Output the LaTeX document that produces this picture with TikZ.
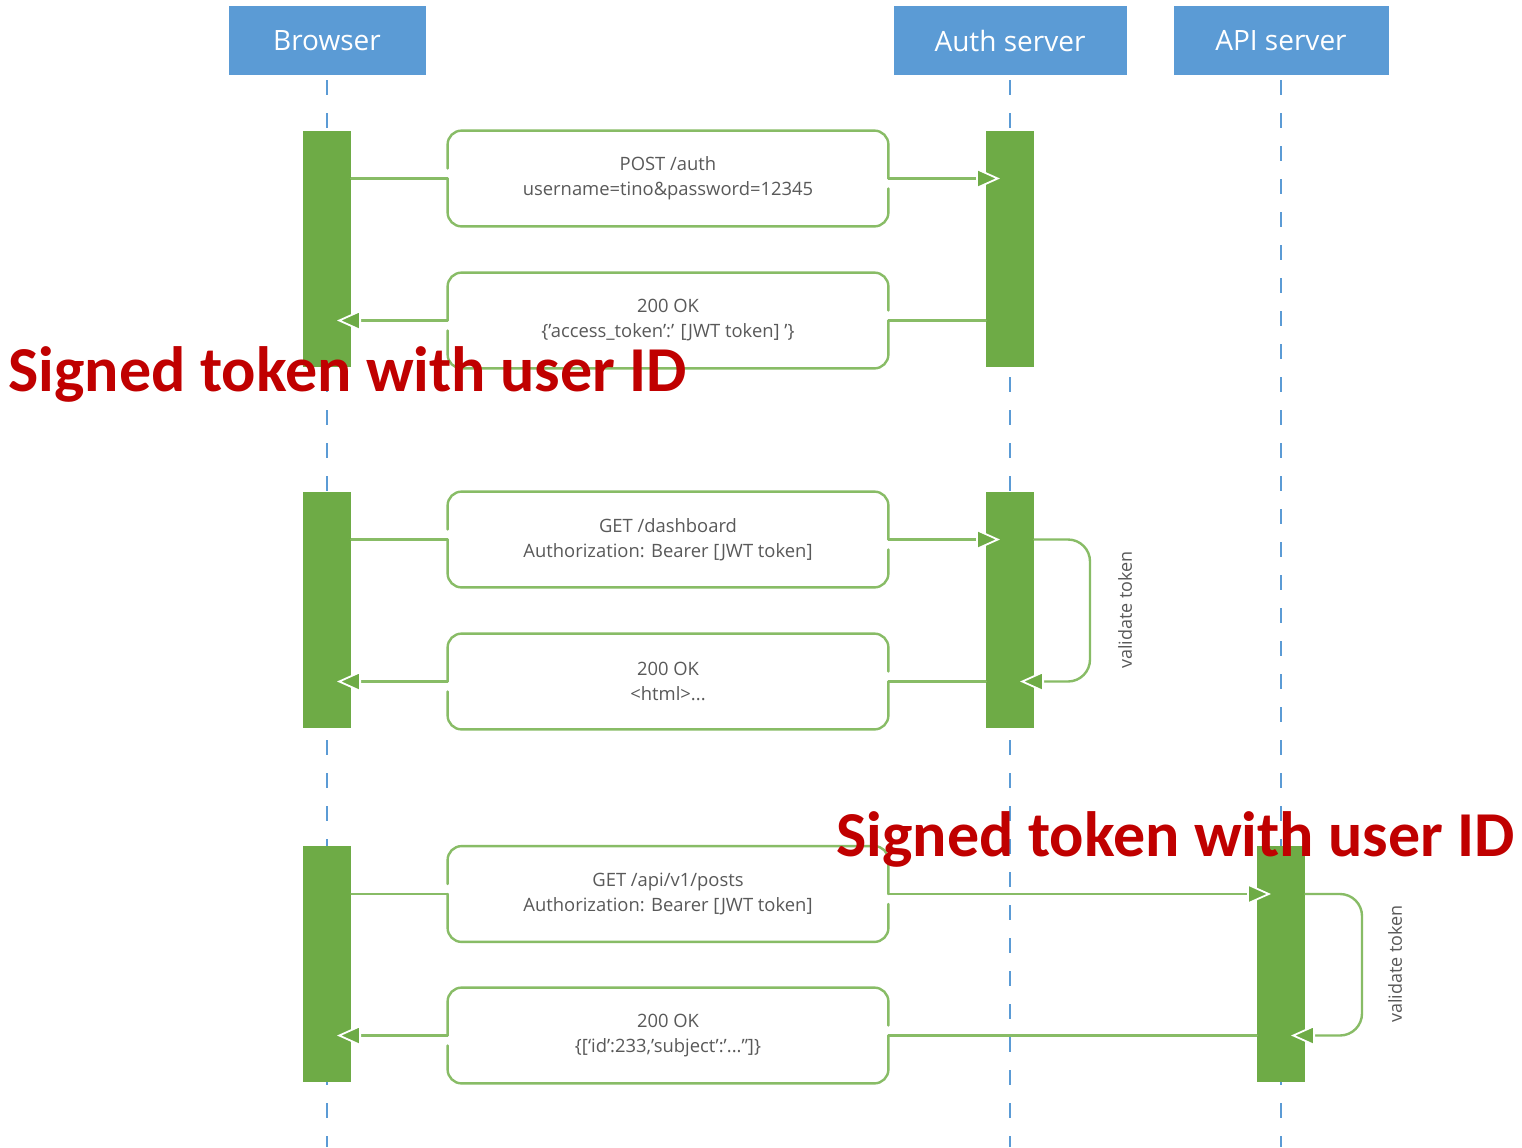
\documentclass[tikz,border=0pt]{standalone}
\usepackage{fontspec}
\setmainfont{Open Sans}
\newfontfamily\calib{Carlito}
\usetikzlibrary{arrows.meta}
\definecolor{hblue}{HTML}{5B9BD5}
\definecolor{bgreen}{HTML}{6EAB46}
\definecolor{lgreen}{HTML}{88BC66}
\definecolor{tgray}{HTML}{595959}
\definecolor{sred}{HTML}{C00000}
\newcommand\msgLR[3]{%
 \draw[conn] (#1.east |- #2.west) -- (#2.west);
 \draw[conn] (#2.west) -- (#2.south west) -- (#2.south east) -- ([yshift=-5pt]#2.east);
 \draw[conn] ([yshift=5pt]#2.west) -- (#2.north west) -- (#2.north east) -- (#2.east);
 \draw[conn,tipped] (#2.east) -- (#3.center |- #2.east);
}
\newcommand\msgRL[3]{%
 \draw[conn] (#1.west |- #2.east) -- (#2.east);
 \draw[conn] (#2.east) -- (#2.south east) -- (#2.south west) -- ([yshift=-5pt]#2.west);
 \draw[conn] ([yshift=5pt]#2.east) -- (#2.north east) -- (#2.north west) -- (#2.west);
 \draw[conn,tipped] (#2.west) -- (#3.center |- #2.west);
}
\begin{document}
\begin{tikzpicture}[x=0.5pt,y=-0.5pt,
 head/.style={fill=hblue, text=white, minimum height=34.5pt, inner sep=0pt, font=\fontsize{14}{16}\selectfont},
 bar/.style={fill=bgreen, minimum width=24pt, minimum height=118pt, inner sep=0pt},
 life/.style={draw=hblue, line width=0.9pt, dash pattern=on 7.5pt off 9pt, dash phase=-2.5pt},
 msgbox/.style={minimum width=220pt, minimum height=47.5pt, inner sep=0pt, align=center, text=tgray, font=\fontsize{9.2}{12.5}\selectfont},
 conn/.style={draw=lgreen, line width=1.2pt, line cap=round, rounded corners=7pt},
 tipped/.style={-{Triangle[length=12pt,width=10.5pt,fill=bgreen,color=white,line width=0.9pt]}, shorten >=5pt},
 vlabel/.style={rotate=90, text=tgray, inner sep=0pt, font=\fontsize{9}{11}\selectfont},
 red/.style={anchor=base west, inner sep=0pt, text=sred, font=\calib\bfseries\fontsize{32}{38}\selectfont}]
\useasboundingbox[fill=white] (0,0) rectangle (1522,1147);
\coordinate (bot) at (0,1147);
% headers
\node[head, minimum width=98.5pt] (hB) at (327,40.5) {Browser};
\node[head, minimum width=116.5pt] (hA) at (1010,40.5) {Auth server};
\node[head, minimum width=107.5pt] (hP) at (1281,40.5) {API server};
% lifelines
\draw[life] (hB.south) -- (hB.south |- bot);
\draw[life] (hA.south) -- (hA.south |- bot);
\draw[life] (hP.south) -- (hP.south |- bot);
% activation bars
\node[bar] (b1) at (327,249) {};
\node[bar] (b2) at (327,610) {};
\node[bar] (b3) at (327,964) {};
\node[bar] (a1) at (1010,249) {};
\node[bar] (a2) at (1010,610) {};
\node[bar] (p3) at (1281,964) {};
% message boxes
\node[msgbox] (m1) at (668,178.5) {POST /auth\\username=tino\&password=12345};
\node[msgbox] (m2) at (668,320.5) {200 OK\\\{'access\_token':' [JWT token] '\}};
\node[msgbox] (m3) at (668,539.5) {GET /dashboard\\Authorization: Bearer [JWT token]};
\node[msgbox] (m4) at (668,681.5) {200 OK\\<html>...};
\node[msgbox] (m5) at (668,894) {GET /api/v1/posts\\Authorization: Bearer [JWT token]};
\node[msgbox] (m6) at (668,1035.5) {200 OK\\\{[‘id’:233,’subject’:’...”]\}};
% messages
\msgLR{b1}{m1}{a1}
\msgRL{a1}{m2}{b1}
\msgLR{b2}{m3}{a2}
\msgRL{a2}{m4}{b2}
\msgLR{b3}{m5}{p3}
\msgRL{p3}{m6}{b3}
% self loops
\coordinate (lpA) at (1090,0);
\coordinate (lpB) at (1362,0);
\draw[conn,tipped,rounded corners=11pt] (a2.east |- m3.east) -- (lpA |- m3.east) -- (lpA |- m4.east) -- (a2.center |- m4.east);
\draw[conn,tipped,rounded corners=11pt] (p3.east |- m5.east) -- (lpB |- m5.east) -- (lpB |- m6.east) -- (p3.center |- m6.east);
\node[vlabel] (v1) at (1125,610) {validate token};
\node[vlabel] (v2) at (1395,964) {validate token};
% red annotations
\node[red] (r1) at (8,391) {Signed token with user ID};
\node[red] (r2) at (836,856) {Signed token with user ID};
\end{tikzpicture}
\end{document}
